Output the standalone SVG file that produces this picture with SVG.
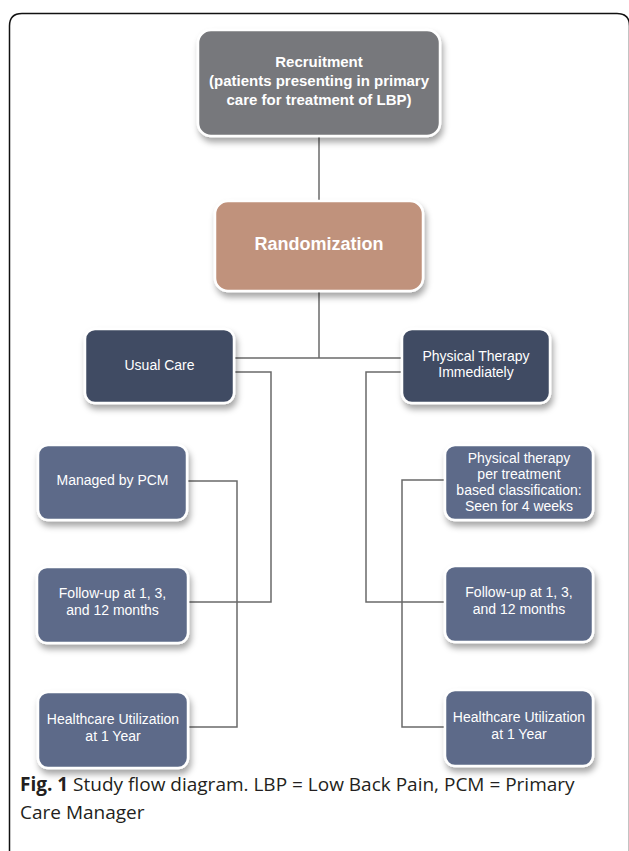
<svg xmlns="http://www.w3.org/2000/svg" width="629" height="851" viewBox="0 0 629 851">
<defs>
<filter id="sh" x="-20%" y="-20%" width="140%" height="150%">
<feDropShadow dx="2" dy="5" stdDeviation="3" flood-color="#000" flood-opacity="0.35"/>
</filter>
<style>
.box{stroke:#fff;stroke-width:2.5;filter:url(#sh)}
.gray{fill:#77787b}
.tan{fill:#c0927b}
.navy{fill:#414c63}
.slate{fill:#5d6b89}
.t{font-family:"Liberation Sans",Arial,sans-serif;fill:#fff;text-anchor:middle;font-size:14px}
.t15{font-size:15px;font-weight:bold}
.t18{font-size:18px;font-weight:bold}
.conn line,.conn polyline{stroke:#6a6a6a;stroke-width:1.5;fill:none}
.cap{font-family:"Open Sans","Noto Sans",sans-serif;font-size:19px;fill:#231f20}
</style>
</defs>
<rect width="629" height="851" fill="#fff"/>
<path d="M9.5 851 V26 Q9.5 13.5 22 13.5 H617 Q629.5 13.5 629.5 26 V851" fill="none" stroke="#111" stroke-width="1.5"/>
<g class="conn">
<line x1="319" y1="136" x2="319" y2="202"/>
<line x1="319" y1="291" x2="319" y2="358"/>
<line x1="234" y1="358" x2="402" y2="358"/>
<polyline points="234,372 271,372 271,602 188,602"/>
<polyline points="187,481 237,481 237,727 188,727"/>
<polyline points="402,372 366,372 366,602 445,602"/>
<polyline points="445,480 402,480 402,727 445,727"/>
</g>
<g id="recruitment">
<rect class="box gray" x="198" y="30" width="242" height="106" rx="13"/>
<text class="t t15" x="319" y="67">Recruitment</text>
<text class="t t15" x="319" y="86">(patients presenting in primary</text>
<text class="t t15" x="319" y="105">care for treatment of LBP)</text>
</g>
<g id="randomization">
<rect class="box tan" x="215" y="201" width="208" height="90" rx="13"/>
<text class="t t18" x="319" y="250">Randomization</text>
</g>
<g id="usual-care">
<rect class="box navy" x="85" y="329" width="149" height="74" rx="10"/>
<text class="t" x="159.5" y="370">Usual Care</text>
</g>
<g id="pt-immediately">
<rect class="box navy" x="402" y="329" width="148" height="74" rx="10"/>
<text class="t" x="476" y="361">Physical Therapy</text>
<text class="t" x="476" y="377">Immediately</text>
</g>
<g id="managed-pcm">
<rect class="box slate" x="38" y="445" width="149" height="75" rx="10"/>
<text class="t" x="112.5" y="485">Managed by PCM</text>
</g>
<g id="pt-classification">
<rect class="box slate" x="445" y="445" width="148" height="75" rx="10"/>
<text class="t" x="519" y="463">Physical therapy</text>
<text class="t" x="519" y="479">per treatment</text>
<text class="t" x="519" y="495">based classification:</text>
<text class="t" x="519" y="511">Seen for 4 weeks</text>
</g>
<g id="followup-left">
<rect class="box slate" x="37" y="567" width="151" height="76" rx="10"/>
<text class="t" x="112.5" y="598">Follow-up at 1, 3,</text>
<text class="t" x="112.5" y="615">and 12 months</text>
</g>
<g id="followup-right">
<rect class="box slate" x="445" y="566" width="148" height="76" rx="10"/>
<text class="t" x="519" y="597">Follow-up at 1, 3,</text>
<text class="t" x="519" y="614">and 12 months</text>
</g>
<g id="healthcare-left">
<rect class="box slate" x="38" y="692" width="150" height="76" rx="10"/>
<text class="t" x="113" y="724">Healthcare Utilization</text>
<text class="t" x="113" y="741">at 1 Year</text>
</g>
<g id="healthcare-right">
<rect class="box slate" x="445" y="690" width="148" height="76" rx="10"/>
<text class="t" x="519" y="722">Healthcare Utilization</text>
<text class="t" x="519" y="739">at 1 Year</text>
</g>
<text class="cap" x="20" y="791"><tspan font-weight="bold">Fig. 1</tspan> Study flow diagram. LBP = Low Back Pain, PCM = Primary</text>
<text class="cap" x="20" y="819">Care Manager</text>
</svg>
